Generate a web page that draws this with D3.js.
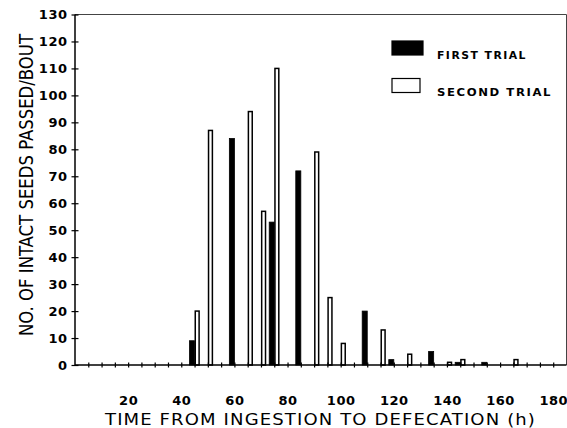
<!DOCTYPE html>
<html>
<head>
<meta charset="utf-8">
<script src="https://cdn.jsdelivr.net/npm/d3@7"></script>
<style>
  body { margin: 0; background: #fff; }
  svg { display: block; }
  .tick-label { font-family: "DejaVu Sans", sans-serif; font-weight: bold; font-size: 13px; fill: #000; letter-spacing: 0.5px; }
</style>
</head>
<body>
<div id="chart"></div>
<script>
// hours after ingestion (bin) and number of seeds passed per bout
const firstTrialHours = [45, 60, 75, 85, 110, 120, 135, 145, 155];
const firstTrialSeeds = [9, 84, 53, 72, 20, 2, 5, 1, 1];

const secondTrialHours = [45, 50, 65, 70, 75, 90, 95, 100, 115, 125, 140, 145, 165];
const secondTrialSeeds = [20, 87, 94, 57, 110, 79, 25, 8, 13, 4, 1, 2, 2];

const xMinorTicks = d3.range(5, 181, 5);
const xTickLabels = [20, 40, 60, 80, 100, 120, 140, 160, 180];
const yTickLabels = d3.range(0, 131, 10);

const seriesNames = ["FIRST TRIAL", "SECOND TRIAL"];

const W = 567, H = 428;
const margin = { top: 14.5, right: 0.5, bottom: 63, left: 75 };

const svg = d3.select("#chart")
  .append("svg")
  .attr("width", W)
  .attr("height", H);

const xScale = d3.scaleLinear()
  .domain([0, 185])
  .range([margin.left, W - margin.right]);

const yScale = d3.scaleLinear()
  .domain([0, 130])
  .range([H - margin.bottom, margin.top]);

const barW = xScale(1.9) - xScale(0);

const first = firstTrialHours.map((h, i) => ({ h: h, v: firstTrialSeeds[i] }));
const second = secondTrialHours.map((h, i) => ({ h: h, v: secondTrialSeeds[i] }));

// frame (top + right)
svg.append("path")
  .attr("d", `M${xScale(0)},${yScale(130)}H${xScale(185)}V${yScale(0)}`)
  .attr("fill", "none")
  .attr("stroke", "#444")
  .attr("stroke-width", 1);

// bars: black ends at the tick, white starts at it
svg.selectAll("rect.first")
  .data(first)
  .join("rect")
  .attr("class", "first")
  .attr("x", d => xScale(d.h) - barW)
  .attr("y", d => yScale(d.v))
  .attr("width", barW)
  .attr("height", d => yScale(0) - yScale(d.v))
  .attr("fill", "#000")
  .attr("stroke", "#000")
  .attr("stroke-width", 0.8);

svg.selectAll("rect.second")
  .data(second)
  .join("rect")
  .attr("class", "second")
  .attr("x", d => xScale(d.h) + 0.7)
  .attr("y", d => yScale(d.v))
  .attr("width", barW - 1.2)
  .attr("height", d => yScale(0) - yScale(d.v))
  .attr("fill", "#fff")
  .attr("stroke", "#000")
  .attr("stroke-width", 1.5);

// x axis: crossing minor ticks
const xAxis = svg.append("g")
  .attr("transform", `translate(0,${yScale(0)})`)
  .call(d3.axisBottom(xScale).tickValues(xMinorTicks).tickSize(2.5).tickFormat(""));
xAxis.select(".domain").attr("stroke-width", 1.5).attr("d", `M${xScale(0)},0H${xScale(185)}`);
xAxis.selectAll(".tick line").attr("y1", -2.5).attr("stroke-width", 1.2);

svg.append("g")
  .attr("transform", `translate(0,${yScale(0)})`)
  .call(d3.axisBottom(xScale).tickValues(xTickLabels).tickSize(0).tickPadding(31))
  .call(g => g.select(".domain").remove())
  .selectAll("text")
  .attr("class", "tick-label");

// y axis
const yAxis = svg.append("g")
  .attr("transform", `translate(${xScale(0)},0)`)
  .call(d3.axisLeft(yScale).tickValues(yTickLabels).tickSize(3.5).tickPadding(4));
yAxis.select(".domain").attr("stroke-width", 1.5).attr("d", `M0,${yScale(0)}V${yScale(130)}`);
yAxis.selectAll(".tick line").attr("x1", 3.5).attr("stroke-width", 1.2);
yAxis.selectAll(".tick text").attr("class", "tick-label");

// axis titles
svg.append("text")
  .attr("x", 105)
  .attr("y", 425)
  .attr("textLength", 431)
  .attr("lengthAdjust", "spacingAndGlyphs")
  .style("font-family", "DejaVu Sans, sans-serif")
  .style("font-size", "16px")
  .style("letter-spacing", "1px")
  .text("TIME FROM INGESTION TO DEFECATION (h)");

svg.append("text")
  .attr("transform", `translate(33,${(33 + 337) / 2}) rotate(-90)`)
  .attr("text-anchor", "middle")
  .attr("textLength", 302)
  .attr("lengthAdjust", "spacingAndGlyphs")
  .style("font-family", "'Liberation Sans Narrow', 'DejaVu Sans Condensed', sans-serif")
  .style("font-size", "20px")
  .text("NO. OF INTACT SEEDS PASSED/BOUT");

// legend
const legend = svg.append("g").attr("transform", "translate(392,41)");
legend.selectAll("rect")
  .data(seriesNames)
  .join("rect")
  .attr("x", 0)
  .attr("y", (d, i) => i * 37.5)
  .attr("width", (d, i) => i == 0 ? 31 : 28)
  .attr("height", 14)
  .attr("fill", (d, i) => i == 0 ? "#000" : "#fff")
  .attr("stroke", "#000")
  .attr("stroke-width", 1.2);
legend.selectAll("text")
  .data(seriesNames)
  .join("text")
  .attr("x", 45)
  .attr("y", (d, i) => 18 + i * 36.5)
  .attr("textLength", (d, i) => i == 0 ? 90 : 115)
  .attr("lengthAdjust", "spacingAndGlyphs")
  .style("font-family", "DejaVu Sans, sans-serif")
  .style("font-weight", "bold")
  .style("font-size", "11px")
  .style("letter-spacing", "1.5px")
  .text(d => d);
</script>
</body>
</html>
